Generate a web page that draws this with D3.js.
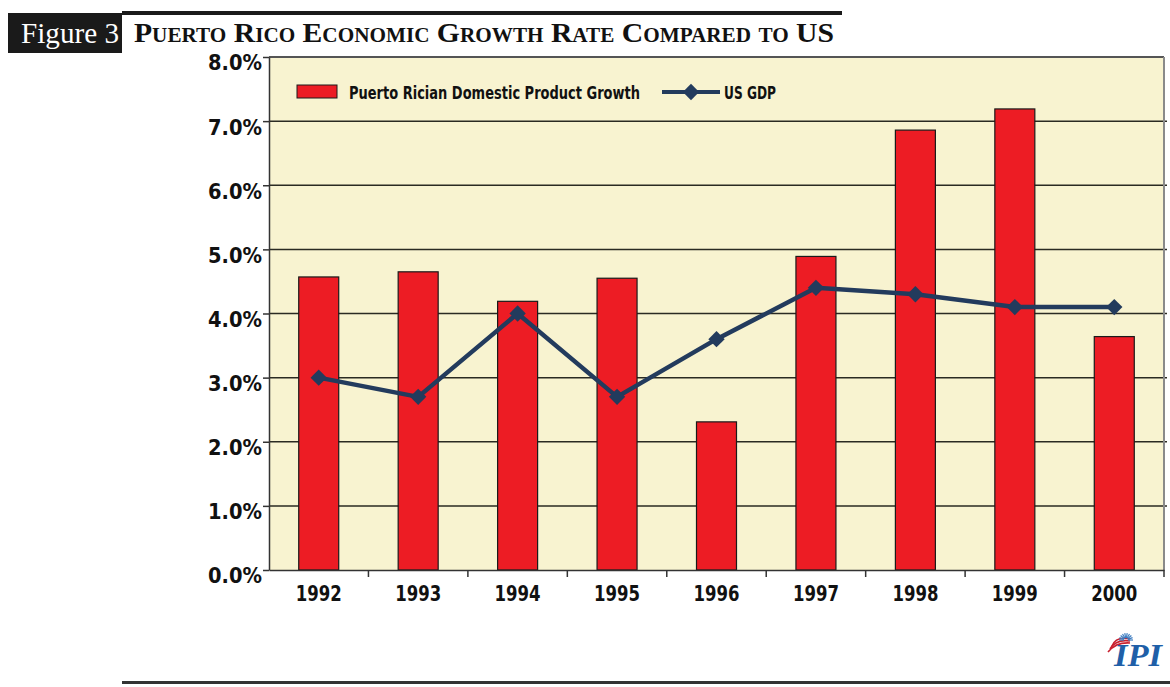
<!DOCTYPE html>
<html>
<head>
<meta charset="utf-8">
<script src="https://cdn.jsdelivr.net/npm/d3@7"></script>
<style>
  html, body { margin: 0; padding: 0; background: #fff; }
  svg { display: block; }
</style>
</head>
<body>
<svg id="chart" width="1170" height="687"></svg>
<script>
// Growth rates, percent per year
const years = ["1992", "1993", "1994", "1995", "1996", "1997", "1998", "1999", "2000"];
const prGrowth = [4.57, 4.65, 4.19, 4.55, 2.31, 4.89, 6.86, 7.19, 3.64];
const usGdp = [3.0, 2.7, 4.0, 2.7, 3.6, 4.4, 4.3, 4.1, 4.1];
const yTicks = [0, 1, 2, 3, 4, 5, 6, 7, 8];
const seriesNames = ["Puerto Rician Domestic Product Growth", "US GDP"];

const svg = d3.select("#chart");
const margin = { left: 269, right: 1164, top: 57, bottom: 570 };
const labelFont = "'DejaVu Sans Condensed', 'Liberation Sans Narrow', 'Arial Narrow', sans-serif";
const serif = "'Liberation Serif', 'Times New Roman', serif";

// Heading: black tab with figure number, rule, small-caps title
svg.append("rect").attr("x", 122).attr("y", 11).attr("width", 720).attr("height", 4).attr("fill", "#1a1a1a");
svg.append("rect").attr("x", 8).attr("y", 13).attr("width", 114).attr("height", 40).attr("fill", "#1a1a1a");
svg.append("text").attr("x", 21).attr("y", 43)
  .attr("font-family", serif).attr("font-size", 29)
  .attr("textLength", 98).attr("lengthAdjust", "spacingAndGlyphs")
  .attr("fill", "#fff").text("Figure 3");
svg.append("text").attr("x", 134).attr("y", 42)
  .attr("font-family", serif).attr("font-size", 28).attr("font-weight", "bold")
  .style("font-variant", "small-caps")
  .attr("textLength", 700).attr("lengthAdjust", "spacingAndGlyphs")
  .attr("fill", "#111").text("Puerto Rico Economic Growth Rate Compared to US");

// Scales
const x = d3.scaleBand().domain(years).range([margin.left, margin.right]).paddingInner(0).paddingOuter(0);
const y = d3.scaleLinear().domain([0, 8]).range([margin.bottom, margin.top]);
const barW = 40;

// Plot background
svg.append("rect")
  .attr("x", margin.left).attr("y", margin.top)
  .attr("width", margin.right - margin.left).attr("height", margin.bottom - margin.top)
  .attr("fill", "#f8f3d0");

// Horizontal gridlines
svg.append("g").selectAll("line").data(yTicks.filter(d => d > 0 && d < 8)).join("line")
  .attr("x1", margin.left).attr("x2", margin.right + 3)
  .attr("y1", d => y(d)).attr("y2", d => y(d))
  .attr("stroke", "#2a2a22").attr("stroke-width", 1.5);

// Top and right frame
svg.append("line").attr("x1", margin.left).attr("x2", margin.right)
  .attr("y1", margin.top).attr("y2", margin.top).attr("stroke", "#555").attr("stroke-width", 2);
svg.append("line").attr("x1", margin.right).attr("x2", margin.right)
  .attr("y1", margin.top).attr("y2", margin.bottom).attr("stroke", "#8a8a8a").attr("stroke-width", 2);

// Bars
svg.append("g").selectAll("rect").data(prGrowth).join("rect")
  .attr("x", (d, i) => x(years[i]) + x.bandwidth() / 2 - barW / 2)
  .attr("y", d => y(d))
  .attr("width", barW)
  .attr("height", d => y(0) - y(d))
  .attr("fill", "#ed1c24").attr("stroke", "#1a1a1a").attr("stroke-width", 1.2);

// Y axis
const yAxis = svg.append("g").attr("transform", `translate(${margin.left},0)`)
  .call(d3.axisLeft(y).tickValues(yTicks).tickSize(6).tickSizeOuter(0).tickFormat(d => d3.format(".1f")(d) + "%"));
yAxis.select(".domain").attr("stroke", "#333").attr("stroke-width", 1.5);
yAxis.selectAll(".tick line").attr("stroke", "#333").attr("stroke-width", 1.5);
yAxis.selectAll(".tick text")
  .attr("x", -7).attr("y", 5).attr("dy", "0.36em")
  .attr("font-family", labelFont).attr("font-weight", "bold").attr("font-size", 22)
  .attr("textLength", 54).attr("lengthAdjust", "spacingAndGlyphs")
  .attr("fill", "#111");

// X axis with ticks at category boundaries
const xAxis = svg.append("g").attr("transform", `translate(0,${margin.bottom})`)
  .call(d3.axisBottom(x).tickSize(0).tickSizeOuter(0));
xAxis.select(".domain").attr("stroke", "#333").attr("stroke-width", 1.5);
xAxis.selectAll(".tick text")
  .attr("y", 14).attr("dy", "0.75em")
  .attr("font-family", labelFont).attr("font-weight", "bold").attr("font-size", 22)
  .attr("textLength", 46).attr("lengthAdjust", "spacingAndGlyphs")
  .attr("fill", "#111");
xAxis.append("g").selectAll("line").data(years.slice(1).concat(["end"])).join("line")
  .attr("x1", (d, i) => i < years.length - 1 ? x(d) : margin.right)
  .attr("x2", (d, i) => i < years.length - 1 ? x(d) : margin.right)
  .attr("y1", 0).attr("y2", 7).attr("stroke", "#333").attr("stroke-width", 1.5);

// US GDP line with diamond markers
const cx = i => x(years[i]) + x.bandwidth() / 2;
const line = d3.line().x((d, i) => cx(i)).y(d => y(d));
svg.append("path").datum(usGdp).attr("d", line)
  .attr("fill", "none").attr("stroke", "#233b5d").attr("stroke-width", 4.5).attr("stroke-linejoin", "round");
const diamond = d3.symbol().type(d3.symbolDiamond2).size(170);
svg.append("g").selectAll("path").data(usGdp).join("path")
  .attr("transform", (d, i) => `translate(${cx(i)},${y(d)})`)
  .attr("d", diamond).attr("fill", "#233b5d");

// Legend
const lg = svg.append("g");
lg.append("rect").attr("x", 297).attr("y", 85).attr("width", 40).attr("height", 13)
  .attr("fill", "#ed1c24").attr("stroke", "#1a1a1a").attr("stroke-width", 1);
lg.append("text").attr("x", 349).attr("y", 99)
  .attr("font-family", labelFont).attr("font-weight", "bold").attr("font-size", 18)
  .attr("textLength", 291).attr("lengthAdjust", "spacingAndGlyphs")
  .attr("fill", "#111").text(seriesNames[0]);
lg.append("line").attr("x1", 662).attr("x2", 720).attr("y1", 92).attr("y2", 92)
  .attr("stroke", "#233b5d").attr("stroke-width", 4);
lg.append("path").attr("transform", "translate(691,92)").attr("d", diamond).attr("fill", "#233b5d");
lg.append("text").attr("x", 724).attr("y", 99)
  .attr("font-family", labelFont).attr("font-weight", "bold").attr("font-size", 18)
  .attr("textLength", 52).attr("lengthAdjust", "spacingAndGlyphs")
  .attr("fill", "#111").text(seriesNames[1]);

// Publisher mark
const logo = svg.append("g");
[0, 1, 2].forEach(k => {
  logo.append("path")
    .attr("d", `M${1108 + k * 2},${652 - k * 3} Q${1116},${642 - k * 3} ${1130},${643 - k * 2}`)
    .attr("fill", "none").attr("stroke", "#c8202f").attr("stroke-width", 1.6);
});
d3.range(10).forEach(k => {
  const a = -Math.PI + k * Math.PI / 9;
  logo.append("line")
    .attr("x1", 1126 + Math.cos(a) * 2).attr("y1", 640 + Math.sin(a) * 2)
    .attr("x2", 1126 + Math.cos(a) * 7).attr("y2", 640 + Math.sin(a) * 7)
    .attr("stroke", "#3c7cc0").attr("stroke-width", 1.2);
});
logo.append("text").attr("x", 1114).attr("y", 666)
  .attr("font-family", serif)
  .attr("font-weight", "bold").attr("font-style", "italic").attr("font-size", 31)
  .attr("textLength", 48).attr("lengthAdjust", "spacingAndGlyphs")
  .attr("fill", "#1f5fa8").text("IPI");

// Bottom rule
svg.append("rect").attr("x", 122).attr("y", 681).attr("width", 1048).attr("height", 3).attr("fill", "#333");
</script>
</body>
</html>
